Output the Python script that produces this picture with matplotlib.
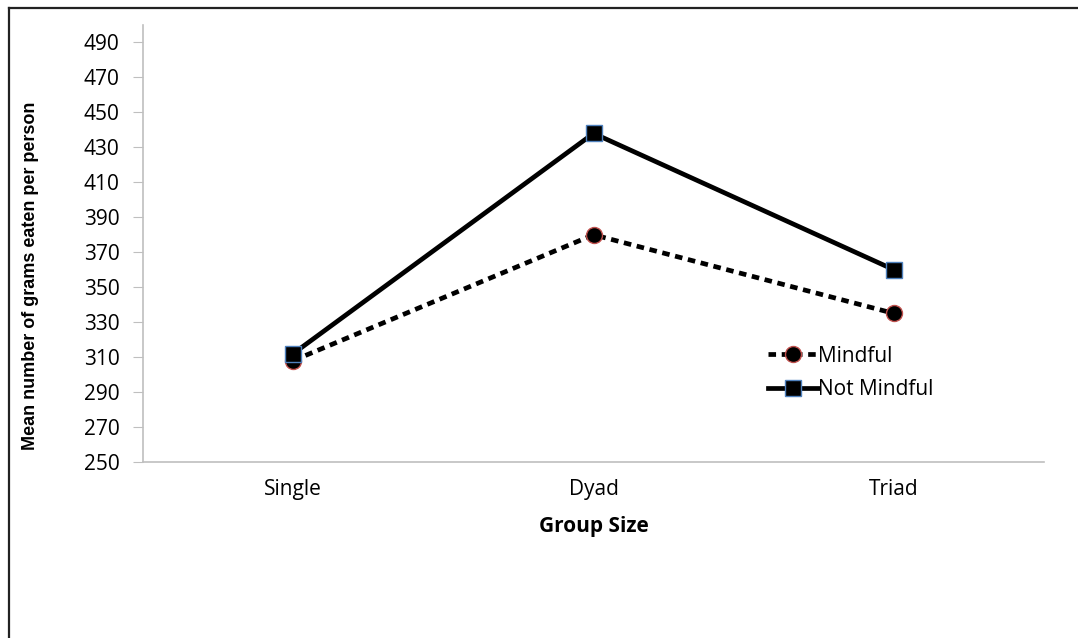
import matplotlib as mpl
mpl.use('Agg')
import matplotlib.pyplot as plt
from matplotlib.lines import Line2D

groups = ["Single", "Dyad", "Triad"]
mindful = [308, 380, 335]
not_mindful = [312, 438, 360]
yticks = list(range(250, 491, 20))

plt.rcParams['font.family'] = ['Open Sans', 'DejaVu Sans']

fig = plt.figure(figsize=(10.78, 6.38), dpi=100)
ax = fig.add_axes([0.1327, 0.2759, 0.8358, 0.6849])

x = list(range(len(groups)))
ax.plot(x, mindful, color='black', lw=3.4, linestyle=(0, (1.6, 1.2)),
        dash_capstyle='butt', marker='o', markersize=11.5,
        markerfacecolor='black', markeredgecolor='#c0504d', markeredgewidth=1,
        label='Mindful', zorder=3)
ax.plot(x, not_mindful, color='black', lw=3.4, marker='s', markersize=11,
        markerfacecolor='black', markeredgecolor='#4f81bd', markeredgewidth=1,
        label='Not Mindful', zorder=4)

ax.set_xlim(-0.5, 2.5)
ax.set_ylim(250, 500)
ax.set_yticks(yticks)
ax.set_xticks(x)
ax.set_xticklabels(groups)

for side in ('top', 'right'):
    ax.spines[side].set_visible(False)
for side in ('left', 'bottom'):
    ax.spines[side].set_color('#bfbfbf')
    ax.spines[side].set_linewidth(1.2)
ax.tick_params(axis='y', length=7, color='#bfbfbf', labelsize=15, pad=10)
ax.tick_params(axis='x', length=0, labelsize=15, pad=12)

ax.set_xlabel('Group Size', fontsize=15, fontweight='bold', labelpad=12)
fig.text(0.028, 0.567, 'Mean number of grams eaten per person', rotation=90,
         ha='center', va='center', fontsize=13, fontweight='bold',
         family=['Liberation Sans', 'DejaVu Sans'])

ax.legend(loc='upper left', bbox_to_anchor=(0.684, 0.285), frameon=False,
          fontsize=15, handlelength=2.4, handletextpad=0.0, labelspacing=0.6,
          borderaxespad=0)

# page border on the top and left edges
fig.add_artist(Line2D([0.0083, 0.0083], [0, 0.987], transform=fig.transFigure,
                      color='#222222', lw=1.6))
fig.add_artist(Line2D([0.0083, 1.0], [0.987, 0.987], transform=fig.transFigure,
                      color='#222222', lw=1.6))

fig.savefig('out.png', dpi=100)
